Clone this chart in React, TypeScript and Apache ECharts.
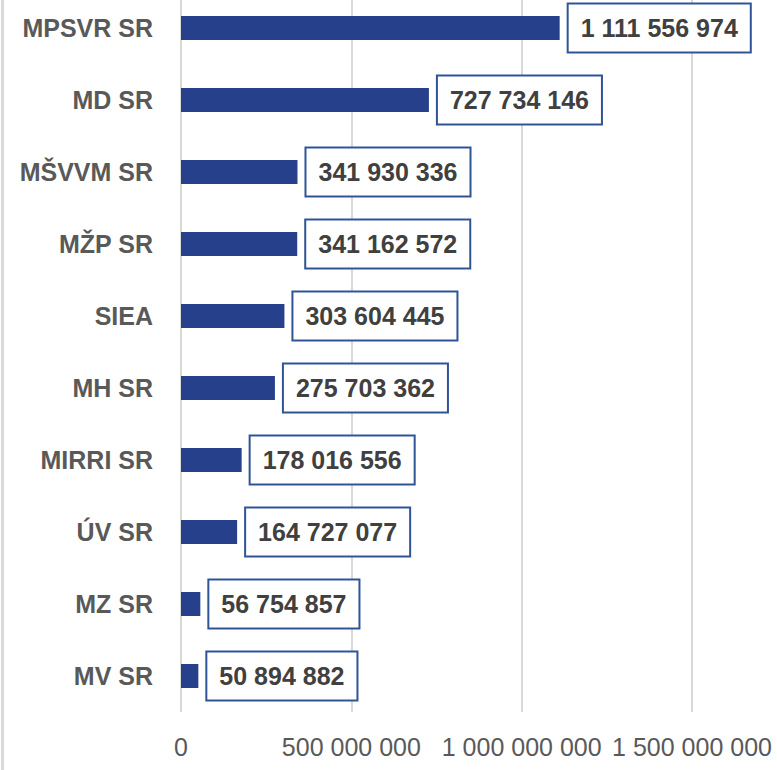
import React, { useEffect, useRef } from "react";
import * as echarts from "echarts";

const categories = [
  "MPSVR SR",
  "MD SR",
  "MŠVVM SR",
  "MŽP SR",
  "SIEA",
  "MH SR",
  "MIRRI SR",
  "ÚV SR",
  "MZ SR",
  "MV SR",
];
const values = [
  1111556974, 727734146, 341930336, 341162572, 303604445, 275703362, 178016556,
  164727077, 56754857, 50894882,
];
const axisMin = 0;
const axisMax = 1500000000;
const axisInterval = 500000000;

const FONT = '"Liberation Sans", Arial, sans-serif';

function fmt(v: number): string {
  return String(Math.round(v)).replace(/\B(?=(\d{3})+(?!\d))/g, " ");
}

export default function App() {
  const ref = useRef<HTMLDivElement>(null);
  useEffect(() => {
    document.body.style.margin = "0";
    const chart = echarts.init(ref.current!, null, { renderer: "svg" });
    chart.setOption({
      animation: false,
      backgroundColor: "#ffffff",
      grid: {
        left: 181,
        right: 85,
        top: -8,
        bottom: 58,
        containLabel: false,
        outerBoundsMode: "none",
      },
      graphic: [
        {
          type: "rect",
          shape: { x: 1, y: 0, width: 3, height: 770 },
          style: { fill: "#d9d9d9" },
          silent: true,
        },
      ],
      xAxis: {
        type: "value",
        min: axisMin,
        max: axisMax,
        interval: axisInterval,
        axisLine: { show: false },
        axisTick: { show: false },
        splitLine: { show: true, lineStyle: { color: "#d9d9d9", width: 2 } },
        axisLabel: {
          formatter: (v: number) => fmt(v),
          color: "#595959",
          fontFamily: FONT,
          fontSize: 25,
          margin: 22,
          hideOverlap: false,
        },
      },
      yAxis: {
        type: "category",
        data: categories,
        inverse: true,
        axisLine: { show: false },
        axisTick: { show: false },
        splitLine: { show: false },
        axisLabel: {
          color: "#595959",
          fontFamily: FONT,
          fontSize: 25,
          fontWeight: "bold",
          margin: 28,
        },
      },
      series: [
        {
          type: "bar",
          data: values,
          barWidth: 24,
          itemStyle: { color: "#27408b" },
          label: {
            show: true,
            position: "right",
            distance: 9,
            formatter: (p: any) => fmt(p.value),
            color: "#404040",
            fontFamily: FONT,
            fontSize: 25,
            lineHeight: 25,
            fontWeight: "bold",
            backgroundColor: "#ffffff",
            borderColor: "#2f5597",
            borderWidth: 2,
            padding: [11, 12, 11, 12],
          },
        },
      ],
    });
    return () => chart.dispose();
  }, []);
  return (
    <div
      ref={ref}
      style={{ position: "fixed", left: 0, top: 0, width: 777, height: 770 }}
    />
  );
}
